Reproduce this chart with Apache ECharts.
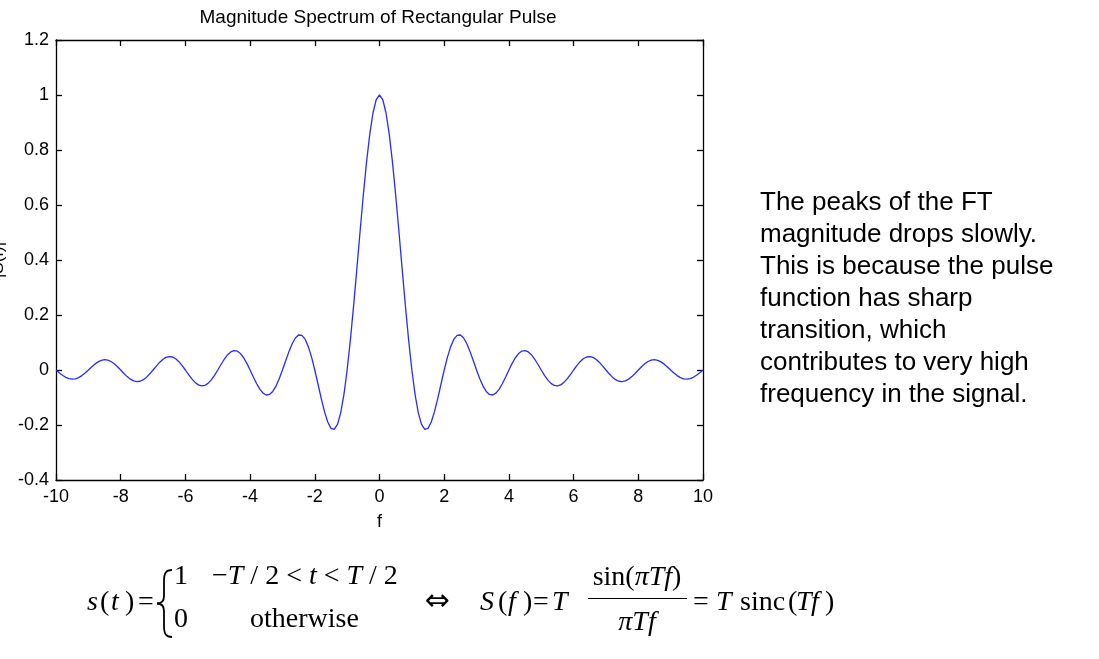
<!DOCTYPE html>
<html>
<head>
<meta charset="utf-8">
<script src="https://cdn.jsdelivr.net/npm/echarts@6/dist/echarts.min.js"></script>
<style>
html,body{margin:0;padding:0;background:#fff;}
#chart{width:1099px;height:659px;}
</style>
</head>
<body>
<div id="chart"></div>
<script>
// sample frequencies (f)
const freq = [
-10,-9.9,-9.8,-9.7,-9.6,-9.5,-9.4,-9.3,-9.2,-9.1,
-9,-8.9,-8.8,-8.7,-8.6,-8.5,-8.4,-8.3,-8.2,-8.1,
-8,-7.9,-7.8,-7.7,-7.6,-7.5,-7.4,-7.3,-7.2,-7.1,
-7,-6.9,-6.8,-6.7,-6.6,-6.5,-6.4,-6.3,-6.2,-6.1,
-6,-5.9,-5.8,-5.7,-5.6,-5.5,-5.4,-5.3,-5.2,-5.1,
-5,-4.9,-4.8,-4.7,-4.6,-4.5,-4.4,-4.3,-4.2,-4.1,
-4,-3.9,-3.8,-3.7,-3.6,-3.5,-3.4,-3.3,-3.2,-3.1,
-3,-2.9,-2.8,-2.7,-2.6,-2.5,-2.4,-2.3,-2.2,-2.1,
-2,-1.9,-1.8,-1.7,-1.6,-1.5,-1.4,-1.3,-1.2,-1.1,
-1,-0.9,-0.8,-0.7,-0.6,-0.5,-0.4,-0.3,-0.2,-0.1,
0,
0.1,0.2,0.3,0.4,0.5,0.6,0.7,0.8,0.9,1,
1.1,1.2,1.3,1.4,1.5,1.6,1.7,1.8,1.9,2,
2.1,2.2,2.3,2.4,2.5,2.6,2.7,2.8,2.9,3,
3.1,3.2,3.3,3.4,3.5,3.6,3.7,3.8,3.9,4,
4.1,4.2,4.3,4.4,4.5,4.6,4.7,4.8,4.9,5,
5.1,5.2,5.3,5.4,5.5,5.6,5.7,5.8,5.9,6,
6.1,6.2,6.3,6.4,6.5,6.6,6.7,6.8,6.9,7,
7.1,7.2,7.3,7.4,7.5,7.6,7.7,7.8,7.9,8,
8.1,8.2,8.3,8.4,8.5,8.6,8.7,8.8,8.9,9,
9.1,9.2,9.3,9.4,9.5,9.6,9.7,9.8,9.9,10
];
// magnitude values S(f)
const mag = [
0,-0.0099,-0.0191,-0.0265,-0.0315,-0.0335,-0.0322,-0.0277,-0.0203,-0.0108,
0,0.0111,0.0213,0.0296,0.0352,0.0374,0.0360,0.0310,0.0228,0.0121,
0,-0.0125,-0.0240,-0.0334,-0.0398,-0.0424,-0.0409,-0.0353,-0.0260,-0.0139,
0,0.0143,0.0275,0.0384,0.0459,0.0490,0.0473,0.0409,0.0302,0.0161,
0,-0.0167,-0.0323,-0.0452,-0.0541,-0.0579,-0.0561,-0.0486,-0.0360,-0.0193,
0,0.0201,0.0390,0.0548,0.0658,0.0707,0.0688,0.0599,0.0445,0.0240,
0,-0.0252,-0.0492,-0.0696,-0.0841,-0.0909,-0.0890,-0.0780,-0.0585,-0.0317,
0,0.0339,0.0668,0.0954,0.1164,0.1273,0.1261,0.1120,0.0850,0.0468,
0,-0.0518,-0.1039,-0.1515,-0.1892,-0.2122,-0.2162,-0.1981,-0.1559,-0.0894,
0,0.1093,0.2339,0.3679,0.5046,0.6366,0.7568,0.8584,0.9355,0.9836,
1,
0.9836,0.9355,0.8584,0.7568,0.6366,0.5046,0.3679,0.2339,0.1093,0,
-0.0894,-0.1559,-0.1981,-0.2162,-0.2122,-0.1892,-0.1515,-0.1039,-0.0518,0,
0.0468,0.0850,0.1120,0.1261,0.1273,0.1164,0.0954,0.0668,0.0339,0,
-0.0317,-0.0585,-0.0780,-0.0890,-0.0909,-0.0841,-0.0696,-0.0492,-0.0252,0,
0.0240,0.0445,0.0599,0.0688,0.0707,0.0658,0.0548,0.0390,0.0201,0,
-0.0193,-0.0360,-0.0486,-0.0561,-0.0579,-0.0541,-0.0452,-0.0323,-0.0167,0,
0.0161,0.0302,0.0409,0.0473,0.0490,0.0459,0.0384,0.0275,0.0143,0,
-0.0139,-0.0260,-0.0353,-0.0409,-0.0424,-0.0398,-0.0334,-0.0240,-0.0125,0,
0.0121,0.0228,0.0310,0.0360,0.0374,0.0352,0.0296,0.0213,0.0111,0,
-0.0108,-0.0203,-0.0277,-0.0322,-0.0335,-0.0315,-0.0265,-0.0191,-0.0099,0
];
const titleText = 'Magnitude Spectrum of Rectangular Pulse';
const xName = 'f';
const yName = '|S(f)|';
const noteLines = [
'The peaks of the FT',
'magnitude drops slowly.',
'This is because the pulse',
'function has sharp',
'transition, which',
'contributes to very high',
'frequency in the signal.'
];

const SANS = "'Liberation Sans', Arial, Helvetica, sans-serif";
const SERIF = "'Liberation Serif', 'Times New Roman', Times, serif";
const EQ = 28;
const richI = { i: { fontStyle: 'italic', fontFamily: SERIF, fontSize: EQ, fill: '#000' } };

function eqText(text, x, y, align, extra) {
  const st = {
    text: text, fontFamily: SERIF, fontSize: EQ, fill: '#000',
    align: align || 'left', verticalAlign: 'middle', rich: richI
  };
  if (extra) Object.assign(st, extra);
  return { type: 'text', x: x, y: y, silent: true, style: st };
}
function curve(x1, y1, c1x, c1y, c2x, c2y, x2, y2) {
  return {
    type: 'bezierCurve', silent: true,
    shape: { x1: x1, y1: y1, cpx1: c1x, cpy1: c1y, cpx2: c2x, cpy2: c2y, x2: x2, y2: y2 },
    style: { fill: 'none', stroke: '#000', lineWidth: 1.8 }
  };
}

const axisLineStyle = { color: '#000', width: 1.3 };
const chart = echarts.init(document.getElementById('chart'), null, { renderer: 'canvas' });
chart.setOption({
  animation: false,
  backgroundColor: '#fff',
  grid: { left: 56, right: 396, top: 40, bottom: 179, containLabel: false, outerBoundsMode: 'none', show: false },
  xAxis: [{
    type: 'value', min: -10, max: 10, interval: 2, position: 'bottom',
    name: xName, nameLocation: 'middle', nameGap: 33,
    nameTextStyle: { fontFamily: SANS, fontSize: 18, color: '#000' },
    axisLine: { show: true, onZero: false, lineStyle: axisLineStyle },
    axisTick: { show: true, inside: true, length: 6, lineStyle: axisLineStyle },
    axisLabel: { fontFamily: SANS, fontSize: 18, color: '#000', margin: 8 },
    splitLine: { show: false }
  }, {
    type: 'value', min: -10, max: 10, interval: 2, position: 'top',
    axisLine: { show: true, onZero: false, lineStyle: axisLineStyle },
    axisTick: { show: true, inside: true, length: 6, lineStyle: axisLineStyle },
    axisLabel: { show: false }, splitLine: { show: false }
  }],
  yAxis: [{
    type: 'value', min: -0.4, max: 1.2, interval: 0.2, position: 'left',
    name: yName, nameLocation: 'middle', nameGap: 44, nameRotate: 90,
    nameTextStyle: { fontFamily: SANS, fontSize: 17, color: '#000' },
    axisLine: { show: true, onZero: false, lineStyle: axisLineStyle },
    axisTick: { show: true, inside: true, length: 6, lineStyle: axisLineStyle },
    axisLabel: { fontFamily: SANS, fontSize: 18, color: '#000', margin: 7,
      formatter: function (v) { return String(Math.round(v * 10) / 10); } },
    splitLine: { show: false }
  }, {
    type: 'value', min: -0.4, max: 1.2, interval: 0.2, position: 'right',
    axisLine: { show: true, onZero: false, lineStyle: axisLineStyle },
    axisTick: { show: true, inside: true, length: 6, lineStyle: axisLineStyle },
    axisLabel: { show: false }, splitLine: { show: false }
  }],
  series: [{
    type: 'line', xAxisIndex: 0, yAxisIndex: 0,
    data: freq.map(function (f, i) { return [f, mag[i]]; }),
    showSymbol: false, symbol: 'none', smooth: false,
    lineStyle: { color: '#2a2aff', width: 1.3 },
    emphasis: { disabled: true }
  }],
  graphic: [
    {
      type: 'text', x: 378, y: 18, silent: true,
      style: {
        text: titleText, fontFamily: SANS, fontSize: 19, fill: '#000',
        align: 'center', verticalAlign: 'middle'
      }
    },
    {
      type: 'text', x: 760, y: 187, silent: true,
      style: {
        text: noteLines.join('\n'), fontFamily: SANS, fontSize: 26, lineHeight: 32,
        fill: '#000', align: 'left', verticalAlign: 'top'
      }
    },
    // s(t) = { ...
    eqText('{i|s}', 87, 603),
    eqText('(', 100, 603),
    eqText('{i|t}', 111, 603),
    eqText(')', 125, 603),
    eqText('=', 138, 603),
    curve(172, 570, 166, 570, 164, 573, 164, 581),
    curve(164, 581, 164, 586, 164, 591, 164, 596),
    curve(164, 596, 164, 601, 161, 603.5, 157, 603.5),
    curve(157, 603.5, 161, 603.5, 164, 606, 164, 611),
    curve(164, 611, 164, 616, 164, 621, 164, 626),
    curve(164, 626, 164, 634, 166, 637, 172, 637),
    eqText('1', 174, 577),
    eqText('\u2212{i|T} / 2 < {i|t} < {i|T} / 2', 212, 577),
    eqText('0', 174, 620),
    eqText('otherwise', 250, 620),
    eqText('\u21D4', 437, 602, 'center', { fontFamily: "'DejaVu Sans', sans-serif", fontSize: 30 }),
    // S(f) = T sin(pi T f)/(pi T f) = T sinc(Tf)
    eqText('{i|S}', 480, 603),
    eqText('(', 498, 603),
    eqText('{i|f}', 508, 603),
    eqText(')', 523, 603),
    eqText('=', 533, 603),
    eqText('{i|T}', 552, 603),
    eqText('sin({i|\u03C0Tf})', 637, 578, 'center'),
    {
      type: 'line', silent: true,
      shape: { x1: 588, y1: 598.5, x2: 687, y2: 598.5 },
      style: { stroke: '#000', lineWidth: 1.2 }
    },
    eqText('{i|\u03C0Tf}', 637, 623, 'center'),
    eqText('=', 693, 603),
    eqText('{i|T}', 716, 603),
    eqText('sinc', 740, 603),
    eqText('(', 788, 603),
    eqText('{i|T}', 796, 603),
    eqText('{i|f}', 811, 603),
    eqText(')', 825, 603)
  ]
});
</script>
</body>
</html>
